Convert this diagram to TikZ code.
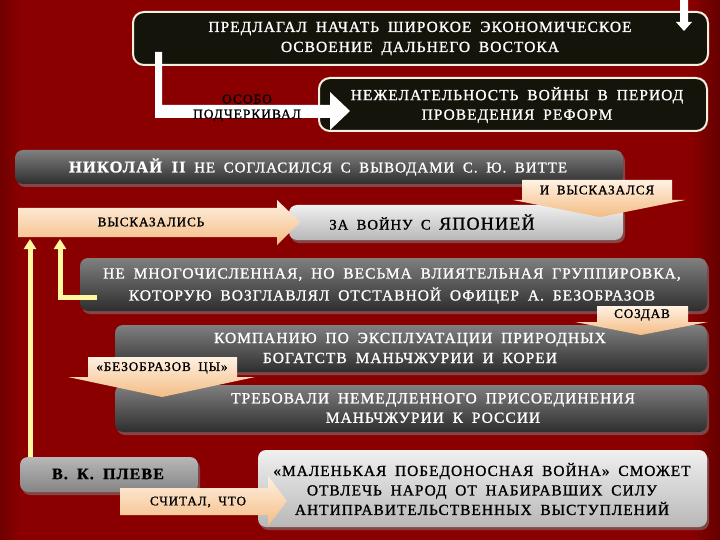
\documentclass[tikz,border=0pt]{standalone}
\usepackage{fontspec}
\setmainfont{Liberation Serif}
\newfontfamily\spf[LetterSpace=7,WordSpace=1.8,FakeBold=1.2]{Liberation Serif}
\usetikzlibrary{shadows,arrows.meta}
\definecolor{bgred}{HTML}{8A0000}
\definecolor{bgdark}{HTML}{700000}
\definecolor{blk}{HTML}{14140A}
\definecolor{cream}{HTML}{F5EFE0}
\definecolor{peachT}{HTML}{FFF1E2}
\definecolor{peachB}{HTML}{F4BC84}
\definecolor{yel}{HTML}{FFF6A0}
\tikzset{
  blackbox/.style={draw=cream, line width=2pt, fill=blk, rounded corners=11pt},
  darkgray/.style={rounded corners=8pt, top color=black!50, bottom color=black!82,
     drop shadow={opacity=0.55, shadow xshift=2pt, shadow yshift=-3pt}},
  lightgray/.style={rounded corners=8pt, top color=black!6, bottom color=black!28,
     drop shadow={opacity=0.55, shadow xshift=2pt, shadow yshift=-3pt}},
  medgray/.style={rounded corners=8pt, top color=black!28, bottom color=black!48,
     drop shadow={opacity=0.55, shadow xshift=2pt, shadow yshift=-3pt}},
  peach/.style={top color=peachT, bottom color=peachB},
  wtxt/.style={text=white, align=center, font=\spf\fontsize{15.4}{19.5}\selectfont},
  btxt/.style={text=black, align=center, font=\spf\fontsize{15.3}{19.5}\selectfont},
  atxt/.style={text=black, align=center, font=\spf\fontsize{13.1}{15}\selectfont},
  yline/.style={draw=yel, line width=5pt},
}
\begin{document}
\begin{tikzpicture}[x=1pt,y=-1pt]
\useasboundingbox (0,0) rectangle (720,540);
\shade[left color=bgdark, right color=bgred, middle color=bgred] (0,0) rectangle (40,540);
\fill[bgred] (40,0) rectangle (720,540);
\shade[left color=bgred, right color=bgdark!90!black] (690,0) rectangle (720,540);

% top black boxes
\draw[blackbox] (133,12) rectangle (708,65);
\node[wtxt, font=\spf\fontsize{15.4}{20}\selectfont] (t1) at (420,38.5) {ПРЕДЛАГАЛ НАЧАТЬ ШИРОКОЕ ЭКОНОМИЧЕСКОЕ\\ОСВОЕНИЕ ДАЛЬНЕГО ВОСТОКА};
\draw[blackbox] (319,78) rectangle (707,131);
\node[wtxt] (t2) at (517,105) {НЕЖЕЛАТЕЛЬНОСТЬ ВОЙНЫ В ПЕРИОД\\ПРОВЕДЕНИЯ РЕФОРМ};

% white arrow from top
\fill[white] (680,0) -- (688,0) -- (688,22) -- (692,22) -- (684,31) -- (676,22) -- (680,22) -- cycle;

% white L arrow
\fill[white] (155,52) -- (162,52) -- (162,105) -- (330,105) -- (330,92) -- (350,111) -- (330,130) -- (330,118) -- (155,118) -- cycle;
\node[text=black, align=center, font=\spf\fontsize{13.5}{15}\selectfont] (osobo) at (247,108) {ОСОБО\\ПОДЧЕРКИВАЛ};

% Nicholas II
\path[darkgray] (15,150) rectangle (623,184);
\node[text=white, font=\spf\fontsize{14.9}{16}\selectfont] (nik) at (318,167) {{\bfseries\fontsize{16.5}{16}\selectfont НИКОЛАЙ II} НЕ СОГЛАСИЛСЯ С ВЫВОДАМИ С. Ю. ВИТТЕ};

% za vojnu
\path[lightgray] (289,205) rectangle (623,240);
\node[btxt, font=\spf\fontsize{14.6}{18}\selectfont] (za) at (432,222) {ЗА ВОЙНУ С {\fontsize{18}{20}\selectfont ЯПОНИЕЙ}};

% I vyskazalsya arrow
\shade[peach] (522,180) -- (672,180) -- (672,200) -- (685,200) -- (600,217) -- (513,200) -- (522,200) -- cycle;
\node[atxt] (ivys) at (597,190) {И ВЫСКАЗАЛСЯ};

% vyskazalis arrow
\shade[peach] (18,208) -- (277,208) -- (277,200) -- (300,222) -- (277,245) -- (277,237) -- (18,237) -- cycle;
\node[atxt] (vys) at (151,222) {ВЫСКАЗАЛИСЬ};

% group
\path[darkgray] (80,258) rectangle (707,311);
\node[wtxt, font=\spf\fontsize{15.4}{22}\selectfont] (grp) at (392,286) {НЕ МНОГОЧИСЛЕННАЯ, НО ВЕСЬМА ВЛИЯТЕЛЬНАЯ ГРУППИРОВКА,\\КОТОРУЮ ВОЗГЛАВЛЯЛ ОТСТАВНОЙ ОФИЦЕР А. БЕЗОБРАЗОВ};

% company
\path[darkgray] (115,325) rectangle (707,372);
\node[wtxt, font=\spf\fontsize{15.4}{20}\selectfont] (comp) at (410,348) {КОМПАНИЮ ПО ЭКСПЛУАТАЦИИ ПРИРОДНЫХ\\БОГАТСТВ МАНЬЧЖУРИИ И КОРЕИ};

% sozdav arrow
\shade[peach] (597,306) -- (688,306) -- (688,322) -- (708,322) -- (641,335) -- (575,322) -- (597,322) -- cycle;
\node[atxt] (sozd) at (642,315) {СОЗДАВ};

% trebovali
\path[darkgray] (115,385) rectangle (707,432);
\node[wtxt] (treb) at (433,408) {ТРЕБОВАЛИ НЕМЕДЛЕННОГО ПРИСОЕДИНЕНИЯ\\МАНЬЧЖУРИИ К РОССИИ};

% bezobrazovtsy arrow
\shade[peach] (88,357) -- (237,357) -- (237,377) -- (255,377) -- (162,397) -- (68,377) -- (88,377) -- cycle;
\node[atxt] (bez) at (162,368) {«БЕЗОБРАЗОВ ЦЫ»};

% yellow lines
\coordinate (ys1) at (30,462);
\coordinate (ye1) at (30,239);
\coordinate (ys2) at (97,297.5);
\coordinate (ym2) at (60,297.5);
\coordinate (ye2) at (60,239);
\draw[yline, -{Triangle[width=12pt,length=10pt]}] (ys1) -- (ye1);
\draw[yline, -{Triangle[width=12pt,length=10pt]}] (ys2) -- (ym2) -- (ye2);

% Pleve
\path[medgray] (20,457) rectangle (198,492);
\node[text=black, font=\spf\bfseries\fontsize{16}{16}\selectfont] (ple) at (108,474) {В. К. ПЛЕВЕ};

% small war
\path[lightgray] (258,450) rectangle (707,527);
\node[btxt] (mal) at (482,489) {«МАЛЕНЬКАЯ ПОБЕДОНОСНАЯ ВОЙНА» СМОЖЕТ\\ОТВЛЕЧЬ НАРОД ОТ НАБИРАВШИХ СИЛУ\\АНТИПРАВИТЕЛЬСТВЕННЫХ ВЫСТУПЛЕНИЙ};

% schital arrow
\shade[peach] (120,488) -- (268,488) -- (268,476) -- (287,501) -- (268,526) -- (268,515) -- (120,515) -- cycle;
\node[atxt] (sch) at (198,502) {СЧИТАЛ, ЧТО};
\end{tikzpicture}
\end{document}
